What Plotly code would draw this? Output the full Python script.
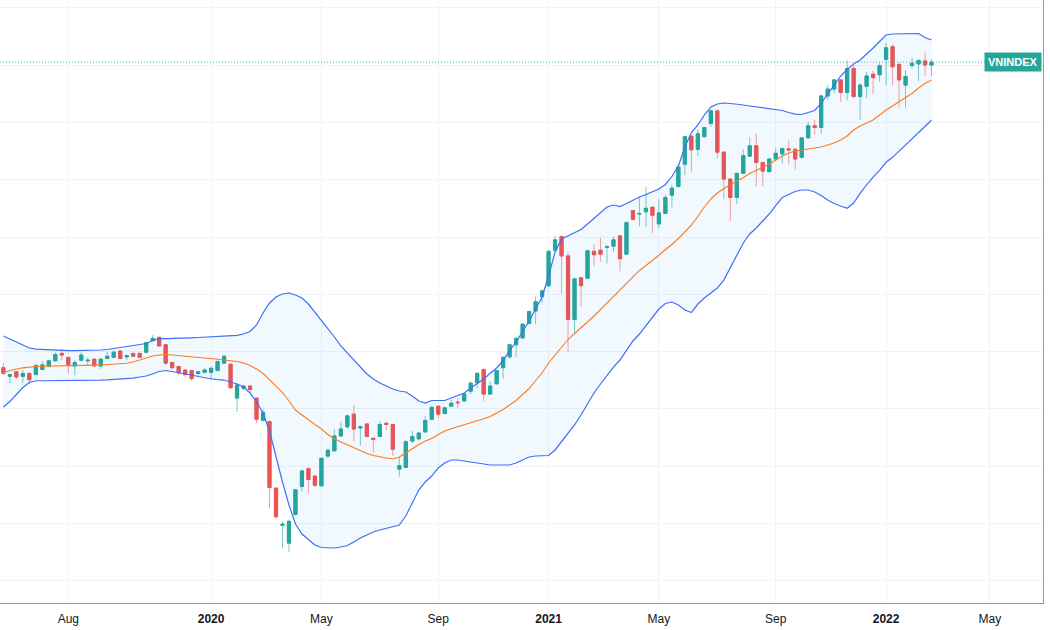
import plotly.graph_objects as go
import pandas as pd

dates = pd.date_range("2019-05-27", periods=144, freq="7D")

open_ = [972, 957, 965, 957, 962, 960, 969, 974, 984, 997, 990, 975, 985, 984, 987, 975, 988, 990, 1001, 991,
         997, 997, 999, 1019, 1025, 1012, 981, 974, 968, 967, 962, 964, 964, 967, 980, 978, 919, 936, 940, 919,
         880, 878, 762, 697, 666, 716, 765, 796, 783, 766, 818, 827, 853, 869, 891, 867, 874, 849, 852, 875,
         873, 795, 798, 844, 848, 860, 882, 905, 892, 905, 912, 914, 931, 946, 969, 926, 944, 972, 991, 1012,
         1024, 1049, 1071, 1096, 1115, 1177, 1201, 1167, 1056, 1129, 1128, 1175, 1177, 1182, 1184, 1202, 1170, 1246, 1240, 1244,
         1252, 1223, 1241, 1273, 1288, 1327, 1376, 1353, 1375, 1398, 1420, 1348, 1301, 1269, 1311, 1341, 1359, 1330, 1314, 1336,
         1345, 1354, 1353, 1339, 1373, 1394, 1391, 1446, 1458, 1474, 1452, 1494, 1445, 1463, 1484, 1483, 1510, 1532, 1501, 1465,
         1499, 1502, 1507, 1500]
high = [981, 960, 965, 968, 965, 978, 983, 985, 999, 1004, 990, 985, 999, 990, 987, 988, 1000, 1002, 1003, 994,
        997, 998, 1017, 1029, 1026, 1013, 981, 974, 968, 968, 965, 971, 974, 983, 994, 980, 945, 942, 942, 920,
        899, 880, 762, 704, 707, 760, 793, 798, 785, 815, 831, 865, 878, 890, 907, 871, 874, 849, 879, 878,
        873, 816, 846, 862, 860, 888, 904, 905, 904, 916, 919, 927, 948, 965, 971, 948, 968, 992, 1013, 1026,
        1049, 1071, 1096, 1108, 1178, 1202, 1202, 1173, 1127, 1129, 1177, 1188, 1198, 1186, 1201, 1202, 1227, 1247, 1270, 1287,
        1253, 1266, 1274, 1291, 1323, 1376, 1376, 1388, 1392, 1423, 1423, 1349, 1302, 1312, 1353, 1374, 1381, 1330, 1337, 1355,
        1356, 1368, 1355, 1374, 1401, 1404, 1448, 1465, 1475, 1475, 1508, 1500, 1468, 1488, 1490, 1503, 1538, 1536, 1504, 1491,
        1512, 1510, 1522, 1510]
low = [959, 945, 952, 945, 943, 959, 968, 973, 983, 985, 962, 959, 983, 977, 974, 970, 988, 990, 987, 985,
       991, 990, 997, 1019, 1009, 977, 969, 959, 956, 949, 956, 962, 951, 966, 978, 936, 895, 933, 928, 875,
       880, 727, 709, 657, 651, 714, 756, 753, 764, 765, 814, 826, 852, 866, 844, 836, 851, 824, 851, 863,
       818, 782, 797, 841, 845, 859, 881, 884, 892, 904, 901, 913, 926, 936, 913, 926, 942, 953, 988, 991,
       1023, 1048, 1048, 1085, 1113, 1176, 1101, 1000, 1032, 1079, 1128, 1149, 1157, 1154, 1174, 1140, 1169, 1228, 1219, 1218,
       1206, 1215, 1240, 1252, 1287, 1308, 1314, 1341, 1374, 1392, 1337, 1266, 1228, 1257, 1310, 1340, 1288, 1288, 1313, 1333,
       1328, 1326, 1318, 1337, 1372, 1378, 1381, 1439, 1451, 1436, 1439, 1442, 1405, 1442, 1449, 1471, 1465, 1465, 1426, 1426,
       1494, 1472, 1481, 1481]
close = [962, 960, 956, 962, 951, 976, 977, 984, 995, 994, 977, 981, 994, 985, 975, 987, 992, 999, 988, 993,
         992, 990, 1016, 1023, 1010, 980, 972, 963, 960, 953, 965, 968, 971, 983, 992, 937, 942, 940, 934, 882,
         894, 763, 712, 699, 704, 759, 792, 777, 767, 814, 828, 853, 865, 888, 865, 869, 852, 847, 873, 873,
         830, 801, 843, 852, 858, 880, 903, 891, 902, 910, 911, 926, 945, 962, 926, 940, 967, 990, 1012, 1023,
         1048, 1070, 1087, 1106, 1175, 1195, 1167, 1056, 1127, 1115, 1176, 1169, 1170, 1183, 1195, 1162, 1225, 1231, 1241, 1250,
         1238, 1242, 1269, 1285, 1322, 1375, 1352, 1380, 1391, 1420, 1348, 1301, 1269, 1311, 1342, 1359, 1330, 1315, 1336, 1346,
         1354, 1352, 1336, 1373, 1394, 1391, 1446, 1458, 1474, 1452, 1494, 1445, 1465, 1481, 1478, 1499, 1530, 1497, 1474, 1480,
         1503, 1508, 1500, 1505]

bb_upper = [1027.3, 1022.1, 1016.8, 1010.7, 1006.4, 1004.6, 1003.8, 1002.9, 1002.4, 1002.0, 1001.7, 1001.7, 1001.7, 1002.0, 1002.5, 1002.9, 1003.8, 1005.5, 1006.9, 1009.0,
            1009.9, 1011.6, 1014.2, 1019.5, 1022.9, 1022.9, 1022.9, 1023.3, 1023.8, 1024.2, 1024.7, 1025.2, 1025.6, 1026.3, 1027.0, 1027.3, 1028.5, 1030.8, 1035.2, 1046.5,
            1067.4, 1084.9, 1095.3, 1100.6, 1102.3, 1098.8, 1093.6, 1083.1, 1069.2, 1055.2, 1041.3, 1025.6, 1009.9, 997.6, 983.7, 971.5, 961.0, 952.3, 945.3, 940.1,
            934.9, 931.4, 929.6, 922.6, 913.9, 910.4, 914.8, 914.8, 914.8, 919.2, 923.5, 927.9, 936.6, 944.5, 952.3, 962.2, 971.5, 984.6, 1002.0, 1016.8,
            1034.3, 1053.5, 1074.4, 1095.3, 1132.0, 1173.8, 1196.5, 1201.7, 1206.9, 1213.1, 1222.7, 1233.1, 1243.6, 1252.3, 1255.8, 1253.2, 1258.4, 1264.5, 1269.8, 1274.1,
            1278.5, 1283.7, 1291.6, 1305.5, 1323.8, 1357.0, 1382.3, 1395.4, 1412.8, 1426.8, 1432.0, 1433.7, 1432.9, 1432.0, 1430.3, 1428.5, 1426.8, 1425.0, 1423.3, 1422.4,
            1420.7, 1417.2, 1414.5, 1413.7, 1417.2, 1420.7, 1433.7, 1449.4, 1463.4, 1480.8, 1492.2, 1501.8, 1508.7, 1520.1, 1529.7, 1541.0, 1552.4, 1554.1, 1554.6, 1555.1,
            1555.8, 1555.0, 1548.0, 1543.6]
bb_basis = [963.6, 967.1, 969.7, 971.8, 973.2, 974.1, 974.6, 975.0, 975.3, 975.5, 975.8, 976.0, 976.2, 976.4, 976.5, 976.7, 977.2, 977.9, 978.8, 979.7,
            981.9, 985.4, 988.9, 992.4, 994.2, 995.0, 994.2, 993.3, 992.4, 991.5, 990.3, 988.9, 987.7, 986.7, 985.4, 984.2, 982.8, 980.2, 975.8, 969.7,
            961.9, 951.4, 940.1, 928.7, 913.9, 898.2, 889.5, 880.8, 872.9, 865.1, 855.5, 847.7, 842.4, 837.2, 832.0, 826.7, 822.4, 818.9, 816.3, 814.5,
            812.8, 816.3, 823.3, 831.1, 838.1, 844.2, 848.5, 855.5, 861.6, 865.6, 868.9, 872.1, 875.2, 879.0, 882.9, 886.9, 892.6, 899.1, 906.9, 914.8,
            925.3, 935.7, 949.7, 962.8, 980.2, 994.2, 1009.0, 1021.2, 1031.7, 1041.3, 1051.7, 1062.2, 1073.5, 1084.9, 1096.2, 1107.5, 1119.2, 1130.2, 1141.6, 1150.3,
            1159.0, 1168.2, 1178.2, 1186.9, 1197.4, 1209.6, 1220.9, 1235.7, 1252.3, 1266.3, 1276.7, 1284.6, 1290.7, 1296.8, 1303.8, 1310.8, 1316.3, 1322.1, 1327.3, 1334.3,
            1341.3, 1346.5, 1350.0, 1351.7, 1353.1, 1354.4, 1357.0, 1360.5, 1364.0, 1369.2, 1376.2, 1386.6, 1393.6, 1398.9, 1404.1, 1412.8, 1421.5, 1428.5, 1436.4, 1443.3,
            1450.3, 1459.9, 1467.7, 1473.9]
bb_lower = [903.5, 913.0, 925.3, 937.5, 946.2, 949.3, 949.3, 949.3, 949.3, 949.3, 949.5, 949.7, 949.9, 950.0, 950.2, 950.5, 950.9, 951.4, 952.3, 953.2,
            954.0, 955.8, 957.5, 961.0, 965.4, 967.1, 965.4, 963.6, 961.9, 959.3, 956.7, 954.4, 952.7, 951.4, 950.5, 947.1, 943.6, 938.4, 927.9, 912.2,
            893.0, 861.6, 816.3, 772.7, 732.5, 699.4, 681.9, 671.5, 662.8, 658.4, 657.5, 657.5, 659.3, 661.9, 668.0, 675.0, 680.2, 685.5, 688.9, 691.5,
            694.1, 697.6, 713.3, 736.0, 758.7, 772.7, 783.1, 797.1, 805.8, 811.0, 811.0, 809.3, 807.5, 805.8, 804.1, 802.3, 802.3, 802.3, 802.3, 805.8,
            811.0, 816.3, 818.0, 818.0, 818.9, 828.5, 842.4, 856.4, 872.1, 889.5, 908.7, 927.9, 943.6, 959.3, 973.2, 985.4, 1002.9, 1018.6, 1030.8, 1044.8,
            1058.7, 1074.4, 1084.0, 1086.6, 1081.4, 1072.7, 1068.3, 1083.1, 1093.6, 1102.3, 1111.0, 1124.9, 1145.9, 1168.6, 1189.5, 1205.3, 1215.7, 1227.9, 1240.1, 1254.9,
            1268.9, 1274.1, 1279.4, 1282.0, 1282.0, 1278.5, 1272.4, 1264.5, 1258.4, 1254.1, 1250.1, 1259.3, 1276.2, 1290.7, 1304.6, 1316.3, 1330.3, 1339.0, 1349.5, 1360.0,
            1370.5, 1380.9, 1393.1, 1403.6]

tick_dates = ["2019-08-05", "2020-01-06", "2020-05-04", "2020-09-07", "2021-01-04",
              "2021-05-03", "2021-09-06", "2022-01-03", "2022-04-25"]
tick_text = ["Aug", "<b>2020</b>", "May", "Sep", "<b>2021</b>", "May", "Sep", "<b>2022</b>", "May"]
grid_prices = list(range(600, 1700, 100))
symbol = "VNINDEX"

UP, DOWN = "#26a69a", "#ef5350"
body_hi = [max(o, c) for o, c in zip(open_, close)]
body_lo = [min(o, c) for o, c in zip(open_, close)]

fig = go.Figure()
fig.add_trace(go.Scatter(x=dates, y=bb_upper, mode="lines", line=dict(color="#3d6ff8", width=1.2),
                         hoverinfo="skip", showlegend=False))
fig.add_trace(go.Scatter(x=dates, y=bb_lower, mode="lines", line=dict(color="#3d6ff8", width=1.2),
                         fill="tonexty", fillcolor="rgba(33,150,243,0.06)", hoverinfo="skip", showlegend=False))
fig.add_trace(go.Scatter(x=dates, y=bb_basis, mode="lines", line=dict(color="#ff7a1a", width=1.1),
                         hoverinfo="skip", showlegend=False))
# wicks (lighter)
fig.add_trace(go.Candlestick(x=dates, open=open_, high=high, low=low, close=close,
                             increasing=dict(line=dict(color="rgba(38,166,154,0.6)", width=1), fillcolor="rgba(0,0,0,0)"),
                             decreasing=dict(line=dict(color="rgba(239,83,80,0.55)", width=1), fillcolor="rgba(0,0,0,0)"),
                             whiskerwidth=0, showlegend=False, hoverinfo="skip"))
# bodies
fig.add_trace(go.Candlestick(x=dates, open=open_, high=body_hi, low=body_lo, close=close,
                             increasing=dict(line=dict(color=UP, width=1), fillcolor=UP),
                             decreasing=dict(line=dict(color=DOWN, width=1), fillcolor=DOWN),
                             whiskerwidth=0, showlegend=False))

last_close = close[-1]
fig.add_shape(type="line", xref="paper", x0=0, x1=1, yref="y", y0=last_close, y1=last_close,
              line=dict(color="rgba(38,166,154,0.85)", width=1, dash="1px,2px"))
fig.add_annotation(x=1, xref="paper", xanchor="right", xshift=-1, y=last_close, yref="y",
                   text="<b>" + symbol + "</b>", showarrow=False,
                   font=dict(color="white", size=11, family="Liberation Sans, Arial"),
                   bgcolor=UP, borderpad=3)

fig.update_layout(
    width=1050, height=630, autosize=False,
    margin=dict(l=0, r=7, t=0, b=27),
    paper_bgcolor="white", plot_bgcolor="white",
    showlegend=False,
    xaxis=dict(type="date", range=["2019-05-23 08:00", "2022-06-21 06:00"],
               rangeslider=dict(visible=False),
               tickvals=tick_dates, ticktext=tick_text,
               tickfont=dict(size=12, color="#131722", family="Liberation Sans, Arial"),
               showgrid=True, gridcolor="#f0f3fa", gridwidth=1,
               showline=True, linecolor="#9598a1", linewidth=1, ticks="",
               ticklabelstandoff=5, zeroline=False),
    yaxis=dict(range=[561.6, 1613.4], tickvals=grid_prices, showticklabels=False,
               showgrid=True, gridcolor="#f0f3fa", gridwidth=1, side="right",
               showline=True, linecolor="#9598a1", linewidth=1, zeroline=False, ticks=""),
)

fig.write_html("out.html")
